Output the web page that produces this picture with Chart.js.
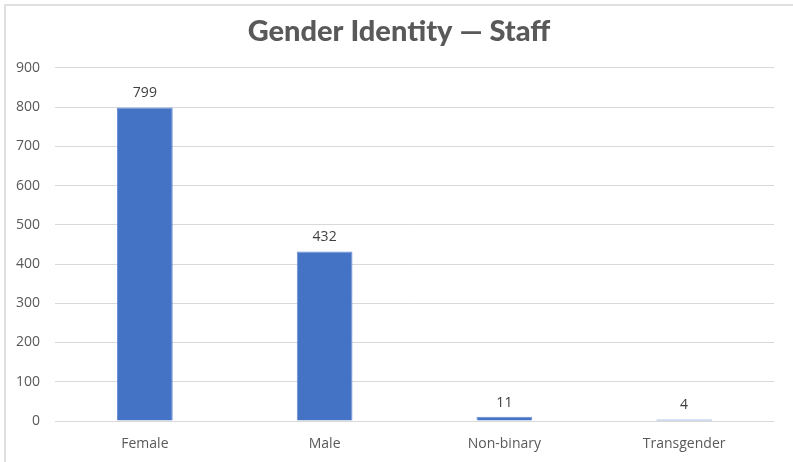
<!DOCTYPE html>
<html>
<head>
<meta charset="utf-8">
<script src="https://cdn.jsdelivr.net/npm/chart.js@4"></script>
<style>
  html, body { margin: 0; padding: 0; background: #fff; overflow: hidden; }
  #frame {
    position: absolute; left: 4px; top: 4px; width: 820px; height: 480px;
    border: 2px solid #e0e0e0; box-sizing: border-box;
  }
  #wrap { position: absolute; left: 0; top: 0; width: 793px; height: 462px; }
</style>
</head>
<body>
<div id="frame"></div>
<div id="wrap"><canvas id="genderChart"></canvas></div>
<script>
//chart data
const categories = ["Female", "Male", "Non-binary", "Transgender"];
const staffCounts = [799, 432, 11, 4];
const yTicks = [0, 100, 200, 300, 400, 500, 600, 700, 800, 900];

const textColor = "#595959";
const labelFont = "'Open Sans', 'Noto Sans', sans-serif";

// draws the value above each bar
const valueLabels = {
  id: "valueLabels",
  afterDatasetsDraw(chart) {
    const ctx = chart.ctx;
    const meta = chart.getDatasetMeta(0);
    ctx.save();
    ctx.fillStyle = "#404040";
    ctx.font = "14px " + labelFont;
    ctx.textAlign = "center";
    ctx.textBaseline = "bottom";
    meta.data.forEach((bar, i) => {
      ctx.fillText(staffCounts[i], bar.x, bar.y - 7);
    });
    ctx.restore();
  },
};

const ctx = document.getElementById("genderChart").getContext("2d");
new Chart(ctx, {
  type: "bar",
  data: {
    labels: categories,
    datasets: [
      {
        data: staffCounts,
        backgroundColor: "#4472C4",
        borderColor: "#6a8fd3",
        borderWidth: 1,
        categoryPercentage: 1,
        barPercentage: 0.31,
      },
    ],
  },
  options: {
    responsive: true,
    maintainAspectRatio: false,
    animation: false,
    layout: { padding: { left: 12, right: 7, top: 0, bottom: 9 } },
    plugins: {
      legend: { display: false },
      tooltip: { enabled: false },
      title: {
        display: true,
        text: "Gender Identity \u2014 Staff",
        color: textColor,
        font: { family: "Lato, 'Open Sans', sans-serif", size: 29, weight: "900", lineHeight: 1.2 },
        padding: { top: 14, bottom: 19 },
      },
    },
    scales: {
      x: {
        afterFit: (scale) => { scale.height = 32; },
        grid: { display: false, drawTicks: false },
        border: { display: false },
        ticks: { color: textColor, font: { family: labelFont, size: 14 }, padding: 15 },
      },
      y: {
        min: 0,
        max: 900,
        afterFit: (scale) => { scale.width = 43; },
        afterBuildTicks: (scale) => { scale.ticks = yTicks.map((v) => ({ value: v })); },
        grid: { color: "#d9d9d9", lineWidth: 1, drawTicks: false },
        border: { display: false },
        ticks: { color: textColor, font: { family: labelFont, size: 14 }, padding: 15 },
      },
      // empty right-hand spacer so the plot stops short of the edge
      yRight: {
        position: "right",
        min: 0,
        max: 900,
        afterFit: (scale) => { scale.width = 12; },
        grid: { display: false, drawTicks: false },
        border: { display: false },
        ticks: { display: false },
      },
    },
  },
  plugins: [valueLabels],
});
</script>
</body>
</html>
